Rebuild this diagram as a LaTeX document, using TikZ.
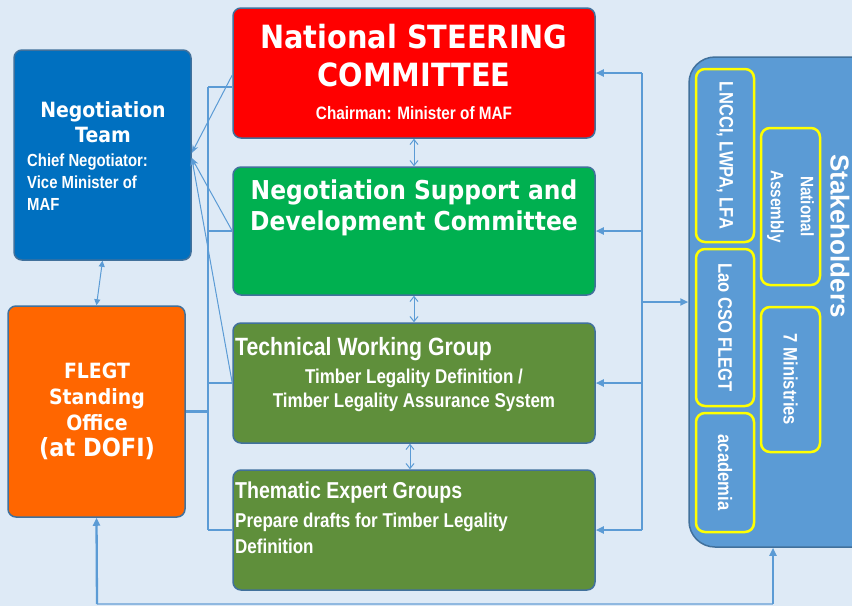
\documentclass[tikz,border=0pt]{standalone}
\usepackage{fontspec}
\setmainfont{Liberation Sans}
\newfontfamily\tahoma[FakeStretch=0.9]{DejaVu Sans}
\newfontfamily\narrowf[FakeStretch=0.85]{Liberation Sans}
\usetikzlibrary{arrows.meta}
\definecolor{bg}{HTML}{DEEAF6}
\definecolor{ln}{HTML}{5B9BD5}
\definecolor{lnlight}{HTML}{8FB8E0}
\definecolor{bd}{HTML}{41719C}
\definecolor{nscred}{HTML}{FF0000}
\definecolor{nsdgreen}{HTML}{00B050}
\definecolor{olivegr}{HTML}{5F8F3B}
\definecolor{ntblue}{HTML}{0070C0}
\definecolor{orng}{HTML}{FF6600}
\definecolor{stkblue}{HTML}{5B9BD5}
\definecolor{yel}{HTML}{FFFF00}
\tikzset{
  box/.style={draw=bd, line width=1.5pt, rounded corners=8pt, inner sep=0pt},
  ybox/.style={draw=yel, line width=2.5pt, rounded corners=9pt, inner sep=0pt},
  wtxt/.style={text=white, inner sep=0pt},
  bus/.style={draw=ln, line width=2.3pt},
  busarr/.style={draw=ln, line width=2.3pt, -{Triangle[length=8pt,width=7pt]}},
  lowbus/.style={draw=lnlight, line width=2pt},
  thinarr/.style={draw=ln, line width=1pt, -{Stealth[length=8pt,width=6pt]}},
  dblarr/.style={draw=ln, line width=1pt, {Straight Barb[length=5pt,width=8pt]}-{Straight Barb[length=5pt,width=8pt]}},
  ntarr/.style={draw=ln, line width=1pt, {Triangle[length=6pt,width=6pt]}-{Triangle[length=6pt,width=6pt]}},
}
\begin{document}
\begin{tikzpicture}[x=1pt,y=-1pt]
\clip (0,0) rectangle (852,606);
\fill[bg] (0,0) rectangle (852,606);

% main boxes
\node[box, fill=nscred, minimum width=362pt, minimum height=130pt] (nsc) at (414,73) {};
\node[box, fill=nsdgreen, minimum width=362pt, minimum height=128pt] (nsd) at (414,231) {};
\node[box, fill=olivegr, minimum width=362pt, minimum height=120pt] (twg) at (414,383) {};
\node[box, fill=olivegr, minimum width=362pt, minimum height=120pt] (teg) at (414,530) {};
\node[box, fill=ntblue, minimum width=177pt, minimum height=210pt] (nt) at (102.5,155) {};
\node[box, fill=orng, minimum width=177pt, minimum height=211pt] (fso) at (96.5,411.5) {};
\node[box, fill=stkblue, rounded corners=26pt, minimum width=200pt, minimum height=490pt] (stk) at (789,302) {};

% yellow boxes
\node[ybox, minimum width=58pt, minimum height=173pt] (lnc) at (725,155.5) {};
\node[ybox, minimum width=58pt, minimum height=157pt] (cso) at (725,327.5) {};
\node[ybox, minimum width=58pt, minimum height=119pt] (aca) at (725,472.5) {};
\node[ybox, minimum width=59pt, minimum height=157pt] (nas) at (790.5,206.5) {};
\node[ybox, minimum width=59pt, minimum height=145pt] (mins) at (790.5,379.5) {};

% texts
\node[wtxt, align=center, font=\tahoma\bfseries\fontsize{32}{38}\selectfont] (nsct) at (414,56) {National STEERING\\COMMITTEE};
\node[wtxt, font=\narrowf\bfseries\fontsize{18}{21}\selectfont] (nscs) at (414,113) {Chairman: Minister of MAF};
\node[wtxt, align=center, font=\tahoma\bfseries\fontsize{26}{31}\selectfont] (nsdt) at (414,207.5) {Negotiation Support and\\Development Committee};
\node[wtxt, anchor=west, font=\narrowf\bfseries\fontsize{25}{28}\selectfont] (twgt) at (235,349) {Technical Working Group};
\node[wtxt, align=center, font=\narrowf\bfseries\fontsize{20}{24}\selectfont] (twgs) at (414,390) {Timber Legality Definition /\\Timber Legality Assurance System};
\node[wtxt, anchor=west, font=\narrowf\bfseries\fontsize{23}{26}\selectfont] (tegt) at (235,493) {Thematic Expert Groups};
\node[wtxt, anchor=west, align=left, font=\narrowf\bfseries\fontsize{20}{26}\selectfont] (tegs) at (235,533) {Prepare drafts for Timber Legality\\Definition};
\node[wtxt, align=center, font=\tahoma\bfseries\fontsize{21}{25}\selectfont] (ntt) at (103,122.5) {Negotiation\\Team};
\node[wtxt, anchor=west, align=left, font=\narrowf\bfseries\fontsize{17.5}{22}\selectfont] (nts) at (27,182) {Chief Negotiator:\\Vice Minister of\\MAF};
\node[wtxt, align=center, font=\tahoma\bfseries\fontsize{21}{26}\selectfont] (fsot) at (97,411) {FLEGT\\Standing\\Office\\{\fontsize{25}{28}\selectfont (at DOFI)}};
\node[wtxt, rotate=-90, font=\bfseries\fontsize{26}{30}\selectfont] (stkt) at (840,236) {Stakeholders};
\node[wtxt, rotate=-90, font=\narrowf\bfseries\fontsize{19.5}{22}\selectfont] at (lnc) {LNCCI, LWPA, LFA};
\node[wtxt, rotate=-90, font=\narrowf\bfseries\fontsize{19.5}{22}\selectfont] at (cso) {Lao CSO FLEGT};
\node[wtxt, rotate=-90, font=\narrowf\bfseries\fontsize{19.5}{22}\selectfont] at (aca) {academia};
\node[wtxt, rotate=-90, align=center, font=\narrowf\bfseries\fontsize{18}{30}\selectfont] at (nas) {National\\Assembly};
\node[wtxt, rotate=-90, font=\narrowf\bfseries\fontsize{19.5}{22}\selectfont] at (mins) {7 Ministries};

% left bus
\coordinate (lbt) at (208,87);
\coordinate (lbb) at (208,530);
\draw[bus] (lbt) -- (lbb);
\draw[bus] (lbt) -- (lbt -| nsc.west);
\draw[bus] (nsd.west -| lbt) -- (nsd.west);
\draw[bus] (twg.west -| lbt) -- (twg.west);
\draw[bus] (teg.west -| lbt) -- (teg.west);
\draw[bus] (fso.east) -- (fso.east -| lbt);

% right bus
\coordinate (rbt) at (642,73);
\coordinate (rbb) at (642,530);
\draw[bus] (rbt) -- (rbb);
\draw[busarr] (rbt) -- (nsc.east);
\draw[busarr] (nsd.east -| rbt) -- (nsd.east);
\draw[busarr] (twg.east -| rbt) -- (twg.east);
\draw[busarr] (rbb) -- (teg.east);
\draw[busarr] (stk.west -| rbt) -- (stk.west);

% thin arrows to negotiation team
\draw[thinarr] ([yshift=-2pt]nsc.west) -- ([yshift=2pt]nt.east);
\draw[thinarr] (nsd.west) -- ([yshift=-3pt]nt.east);
\draw[thinarr] (twg.west) -- ([yshift=-3pt]nt.east);

% vertical double arrows
\draw[dblarr] (nsc.south) -- (nsd.north);
\draw[dblarr] (nsd.south) -- (twg.north);
\draw[dblarr] ([xshift=-4pt]twg.south) -- ([xshift=-4pt]teg.north);
\draw[ntarr] (nt.south) -- (fso.north);

% bottom loop
\coordinate (bl) at (97,604);
\coordinate (br) at (773,604);
\draw[lowbus] (bl) -- (br);
\draw[busarr] (bl) -- (fso.south);
\draw[busarr] (br) -- (br |- stk.south);
\end{tikzpicture}
\end{document}
